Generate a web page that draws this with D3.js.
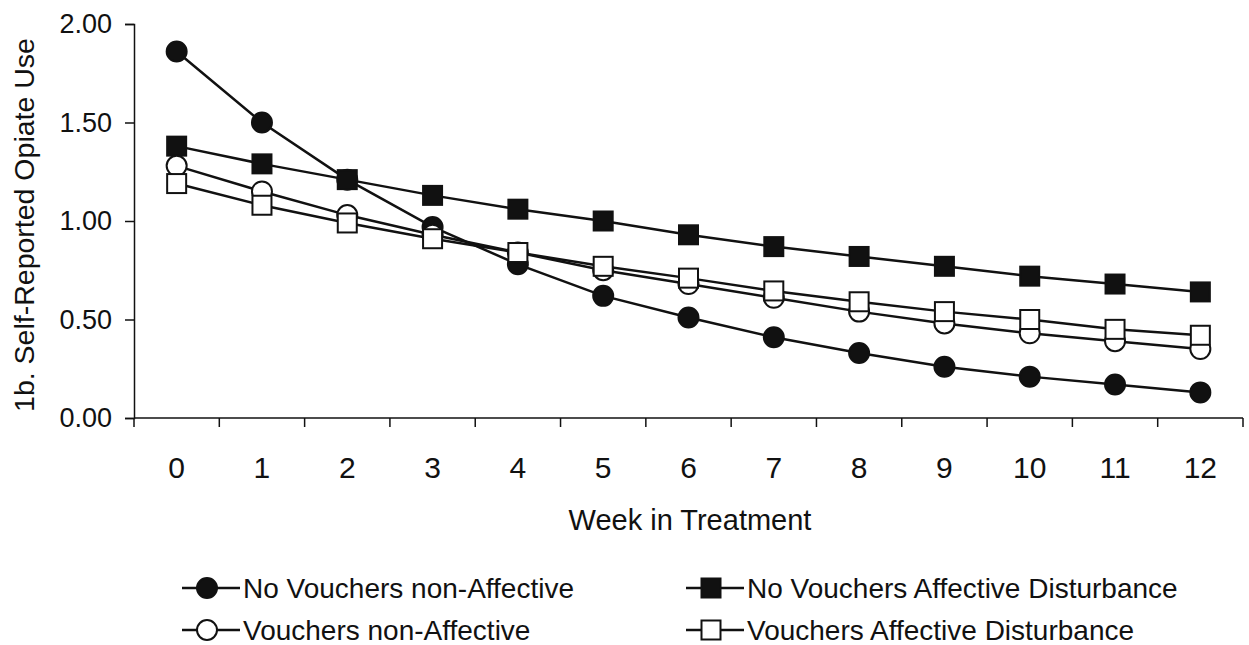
<!DOCTYPE html>
<html>
<head>
<meta charset="utf-8">
<script src="https://cdn.jsdelivr.net/npm/d3@7"></script>
<style>
  body { margin: 0; background: #fff; }
  text { font-family: "Liberation Sans", Arial, sans-serif; fill: #111; }
</style>
</head>
<body>
<div id="chart"></div>
<script>
// Weeks on the x axis
const weeks = [0, 1, 2, 3, 4, 5, 6, 7, 8, 9, 10, 11, 12];

// Series values
const noVouchersNonAffective = [1.86, 1.50, 1.21, 0.97, 0.78, 0.62, 0.51, 0.41, 0.33, 0.26, 0.21, 0.17, 0.13];
const noVouchersAffective = [1.38, 1.29, 1.21, 1.13, 1.06, 1.00, 0.93, 0.87, 0.82, 0.77, 0.72, 0.68, 0.64];
const vouchersNonAffective = [1.28, 1.15, 1.03, 0.93, 0.84, 0.75, 0.68, 0.61, 0.54, 0.48, 0.43, 0.39, 0.35];
const vouchersAffective = [1.19, 1.08, 0.99, 0.91, 0.84, 0.77, 0.71, 0.645, 0.59, 0.54, 0.50, 0.45, 0.42];

const yTicks = [0, 0.5, 1.0, 1.5, 2.0];

const seriesNames = [
    "No Vouchers non-Affective",
    "No Vouchers Affective Disturbance",
    "Vouchers non-Affective",
    "Vouchers Affective Disturbance"
];

const series = [
    { name: seriesNames[0], values: noVouchersNonAffective, shape: "circle", filled: true },
    { name: seriesNames[1], values: noVouchersAffective, shape: "square", filled: true },
    { name: seriesNames[2], values: vouchersNonAffective, shape: "circle", filled: false },
    { name: seriesNames[3], values: vouchersAffective, shape: "square", filled: false }
];

const svgWidth = 1249, svgHeight = 645;
const margin = { top: 24, left: 134 };
const width = 1243, height = 418;

const svg = d3.select("#chart")
    .append("svg")
    .attr("width", svgWidth)
    .attr("height", svgHeight);

// Scales
const x = d3.scaleBand()
    .domain(weeks)
    .range([margin.left, width]);

const y = d3.scaleLinear()
    .domain([0, 2])
    .range([height, margin.top]);

// X axis: ticks at category boundaries
const xAxis = svg.append("g")
    .attr("transform", `translate(0, ${height})`);
xAxis.append("line")
    .attr("x1", margin.left).attr("x2", width)
    .attr("stroke", "#111").attr("stroke-width", 1.5);
const boundaries = weeks.map(w => x(w)).concat([width]);
xAxis.selectAll(".tick")
    .data(boundaries)
    .enter().append("line")
    .attr("x1", d => d).attr("x2", d => d)
    .attr("y1", 0).attr("y2", 9)
    .attr("stroke", "#111").attr("stroke-width", 1.5);
xAxis.selectAll(".label")
    .data(weeks)
    .enter().append("text")
    .attr("x", d => x(d) + x.bandwidth() / 2)
    .attr("y", 60)
    .attr("text-anchor", "middle")
    .style("font-size", "30px")
    .text(d => d);

// Y axis
svg.append("g")
    .attr("transform", `translate(${margin.left}, 0)`)
    .call(d3.axisLeft(y).tickValues(yTicks).tickFormat(d3.format(".2f")).tickSize(9).tickPadding(13))
    .call(g => g.select(".domain").attr("stroke", "#111").attr("stroke-width", 1.5))
    .call(g => g.selectAll(".tick line").attr("stroke", "#111").attr("stroke-width", 1.5))
    .call(g => g.selectAll(".tick text").style("font-size", "27px").attr("fill", "#111"));

// Axis titles
svg.append("text")
    .attr("x", 690)
    .attr("y", 530)
    .attr("text-anchor", "middle")
    .style("font-size", "29px")
    .text("Week in Treatment");

svg.append("text")
    .attr("transform", `translate(34, 225) rotate(-90)`)
    .attr("text-anchor", "middle")
    .style("font-size", "28.5px")
    .text("1b. Self-Reported Opiate Use");

// Marker drawer
function drawMarker(g, shape, filled, cx, cy) {
    if (shape === "circle") {
        g.append("circle")
            .attr("cx", cx).attr("cy", cy).attr("r", 10)
            .attr("fill", filled ? "#111" : "#fff")
            .attr("stroke", "#111").attr("stroke-width", 2);
    } else {
        g.append("rect")
            .attr("x", cx - 9.5).attr("y", cy - 9.5)
            .attr("width", 19).attr("height", 19)
            .attr("fill", filled ? "#111" : "#fff")
            .attr("stroke", "#111").attr("stroke-width", 2);
    }
}

const line = d3.line()
    .x((d, i) => x(weeks[i]) + x.bandwidth() / 2)
    .y(d => y(d));

// Lines first, then markers on top
series.forEach(s => {
    svg.append("path")
        .datum(s.values)
        .attr("fill", "none")
        .attr("stroke", "#111")
        .attr("stroke-width", 2.5)
        .attr("d", line);
});
series.forEach(s => {
    const g = svg.append("g");
    s.values.forEach((v, i) => drawMarker(g, s.shape, s.filled, x(weeks[i]) + x.bandwidth() / 2, y(v)));
});

// Legend
const legendPos = [
    { x: 182, y: 588 },
    { x: 686, y: 588 },
    { x: 182, y: 630 },
    { x: 686, y: 630 }
];
series.forEach((s, i) => {
    const p = legendPos[i];
    const g = svg.append("g");
    g.append("line")
        .attr("x1", p.x).attr("x2", p.x + 58)
        .attr("y1", p.y).attr("y2", p.y)
        .attr("stroke", "#111").attr("stroke-width", 2.5);
    drawMarker(g, s.shape, s.filled, p.x + 25, p.y);
    g.append("text")
        .attr("x", p.x + 61)
        .attr("y", p.y + 10)
        .style("font-size", "28px")
        .text(s.name);
});
</script>
</body>
</html>
